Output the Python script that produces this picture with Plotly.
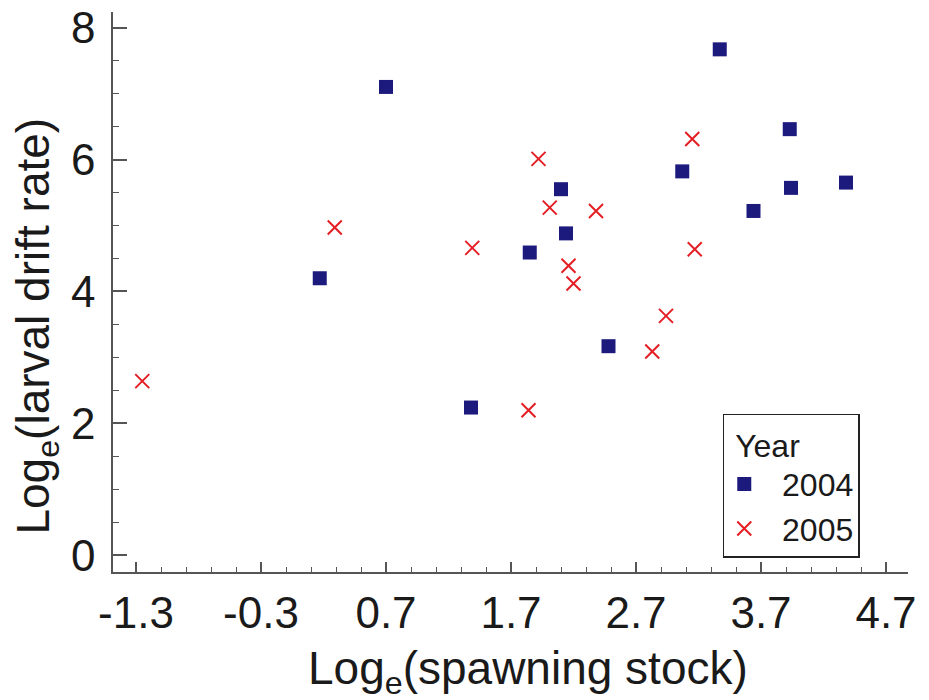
import plotly.graph_objects as go

# 2004 (squares)
x_2004 = [0.70, 0.17, 1.38, 1.85, 2.10, 2.14, 2.48, 3.07, 3.37, 3.64, 3.93, 3.94, 4.38]
y_2004 = [7.10, 4.20, 2.24, 4.59, 5.55, 4.88, 3.17, 5.82, 7.67, 5.22, 6.46, 5.57, 5.65]

# 2005 (crosses)
x_2005 = [-1.25, 0.29, 1.39, 1.84, 1.92, 2.01, 2.16, 2.20, 2.38, 2.83, 2.94, 3.15, 3.17]
y_2005 = [2.64, 4.97, 4.66, 2.20, 6.01, 5.27, 4.39, 4.12, 5.22, 3.09, 3.63, 6.31, 4.64]

x_ticks = [-1.3, -0.3, 0.7, 1.7, 2.7, 3.7, 4.7]
y_ticks = [0, 2, 4, 6, 8]

FONT = "Liberation Sans, Arial, sans-serif"
AX = "#555555"
TXT = "#1a1a1a"

fig = go.Figure()
fig.add_trace(go.Scatter(
    x=x_2004, y=y_2004, mode="markers", name="&nbsp;&nbsp;2004",
    marker=dict(symbol="square", size=14, color="#1d1a7e"),
))
fig.add_trace(go.Scatter(
    x=x_2005, y=y_2005, mode="markers", name="&nbsp;&nbsp;2005",
    marker=dict(symbol="x-thin", size=14, color="#e31e24",
                line=dict(width=2, color="#e31e24")),
))

fig.update_layout(
    width=929, height=700,
    margin=dict(l=105, r=29, t=4, b=136, autoexpand=False),
    paper_bgcolor="white", plot_bgcolor="white",
    font=dict(family=FONT, color=TXT),
    showlegend=True,
    legend=dict(
        title=dict(text="&nbsp;Year", font=dict(size=32, family=FONT, color=TXT)),
        font=dict(size=32, family=FONT, color=TXT),
        x=0.767, y=0.283, xanchor="left", yanchor="top",
        bordercolor="#222222", borderwidth=1.5, bgcolor="white",
        tracegroupgap=0, itemwidth=30,
    ),
    annotations=[
        dict(text="Log<sub>e</sub>(spawning stock)", xref="paper", yref="paper",
             x=0.5216, y=-0.1773, xanchor="center", yanchor="middle", showarrow=False,
             font=dict(size=46, family=FONT, color=TXT)),
        dict(text="Log<sub>e</sub>(larval drift rate)", xref="paper", yref="paper",
             x=-0.0965, y=0.4388, xanchor="center", yanchor="middle", showarrow=False,
             textangle=-90, font=dict(size=46, family=FONT, color=TXT)),
    ],
)

fig.update_xaxes(
    range=[-1.484, 4.876], automargin=False,
    tickmode="array", tickvals=x_ticks, ticktext=[f"{v:.1f}" for v in x_ticks],
    ticks="inside", ticklen=10, tickwidth=1.5, tickcolor=AX,
    minor=dict(tick0=-1.3, dtick=0.2, ticks="inside", ticklen=5, tickwidth=1.2, tickcolor=AX),
    showline=True, linecolor=AX, linewidth=1.5,
    showgrid=False, zeroline=False,
    tickfont=dict(size=44, family=FONT, color=TXT),
    ticklabelstandoff=1, ticklabeloverflow="allow",
)
fig.update_yaxes(
    range=[-0.253, 8.236], automargin=False,
    tickmode="array", tickvals=y_ticks, ticktext=[str(v) for v in y_ticks],
    ticks="inside", ticklen=14, tickwidth=1.5, tickcolor=AX,
    minor=dict(tick0=0, dtick=0.5, ticks="inside", ticklen=6, tickwidth=1.2, tickcolor=AX),
    showline=True, linecolor=AX, linewidth=1.5,
    showgrid=False, zeroline=False,
    tickfont=dict(size=44, family=FONT, color=TXT),
    ticklabelstandoff=7, ticklabeloverflow="allow",
)

fig.write_html("out.html")
